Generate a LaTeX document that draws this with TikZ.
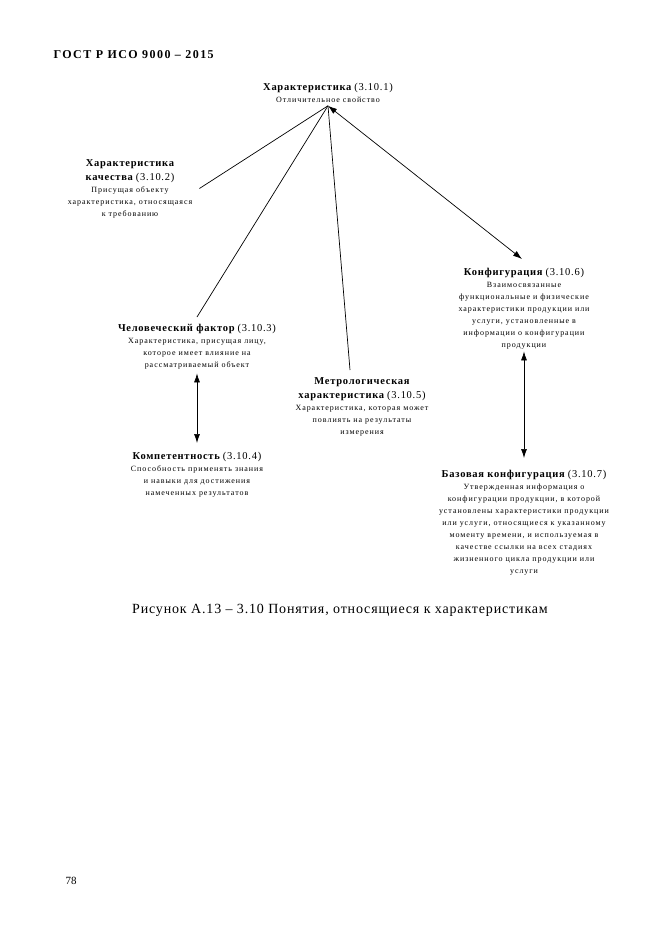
\documentclass[tikz,border=0pt]{standalone}
\usepackage{fontspec}
\setmainfont{Liberation Serif}
\usetikzlibrary{arrows.meta}
\definecolor{GostInk}{HTML}{000000}
\newcommand{\ttl}[1]{{\fontsize{10.5}{14}\selectfont\bfseries\addfontfeature{LetterSpace=7}#1}}
\newcommand{\nmb}[1]{{\fontsize{10.5}{14}\selectfont\addfontfeature{LetterSpace=7}#1}}

\begin{document}
\begin{tikzpicture}[x=1pt,y=-1pt,
    concept/.style={align=center,inner sep=0pt,anchor=north,font=\fontsize{8}{12}\selectfont\addfontfeature{LetterSpace=12}},
    link/.style={GostInk,line width=0.7pt},
    both/.style={link,{Latex[length=9pt,width=6pt]}-{Latex[length=9pt,width=6pt]}}]
  \useasboundingbox (0,0) rectangle (661,935);
  \node[anchor=base west,font=\fontsize{12}{14}\selectfont\bfseries\addfontfeature{LetterSpace=12}] (head) at (50,58) {ГОСТ Р ИСО 9000 – 2015};
  \node[concept] (c1) at (328,83) {\ttl{Характеристика} \nmb{(3.10.1)}\\Отличительное свойство};
  \node[concept] (c2) at (130,159) {\ttl{Характеристика}\\[2pt]\ttl{качества} \nmb{(3.10.2)}\\Присущая объекту\\характеристика, относящаяся\\к требованию};
  \node[concept] (c6) at (524,268) {\ttl{Конфигурация} \nmb{(3.10.6)}\\Взаимосвязанные\\функциональные и физические\\характеристики продукции или\\услуги, установленные в\\информации о конфигурации\\продукции};
  \node[concept] (c3) at (197,324) {\ttl{Человеческий фактор} \nmb{(3.10.3)}\\Характеристика, присущая лицу,\\которое имеет влияние на\\рассматриваемый объект};
  \node[concept] (c5) at (362,377) {\ttl{Метрологическая}\\[2pt]\ttl{характеристика} \nmb{(3.10.5)}\\Характеристика, которая может\\повлиять на результаты\\измерения};
  \node[concept] (c4) at (197,452) {\ttl{Компетентность} \nmb{(3.10.4)}\\Способность применять знания\\и навыки для достижения\\намеченных результатов};
  \node[concept] (c7) at (524,470) {\ttl{Базовая конфигурация} \nmb{(3.10.7)}\\Утвержденная информация о\\конфигурации продукции, в которой\\установлены характеристики продукции\\или услуги, относящиеся к указанному\\моменту времени, и используемая в\\качестве ссылки на всех стадиях\\жизненного цикла продукции или\\услуги};
  \node[anchor=base,font=\fontsize{14}{16}\selectfont\addfontfeature{LetterSpace=6}] (cap) at (340,613) {Рисунок А.13 – 3.10 Понятия, относящиеся к характеристикам};
  \node[anchor=base west,font=\fontsize{11}{13}\selectfont] (page) at (62,884) {78};
  \coordinate (apex) at ([yshift=-3pt]c1.south);
  \draw[link] (apex) -- ([xshift=7pt]c2.east);
  \draw[link] (apex) -- ([yshift=7pt]c3.north);
  \draw[link] (apex) -- ([xshift=-12pt,yshift=7pt]c5.north);
  \draw[both] (apex) -- ([xshift=-2pt,yshift=9pt]c6.north);
  \draw[both,shorten <=4pt,shorten >=9pt] (c3.south) -- (c4.north);
  \draw[both,shorten <=2pt,shorten >=12pt] (c6.south) -- (c7.north);
\end{tikzpicture}
\end{document}
